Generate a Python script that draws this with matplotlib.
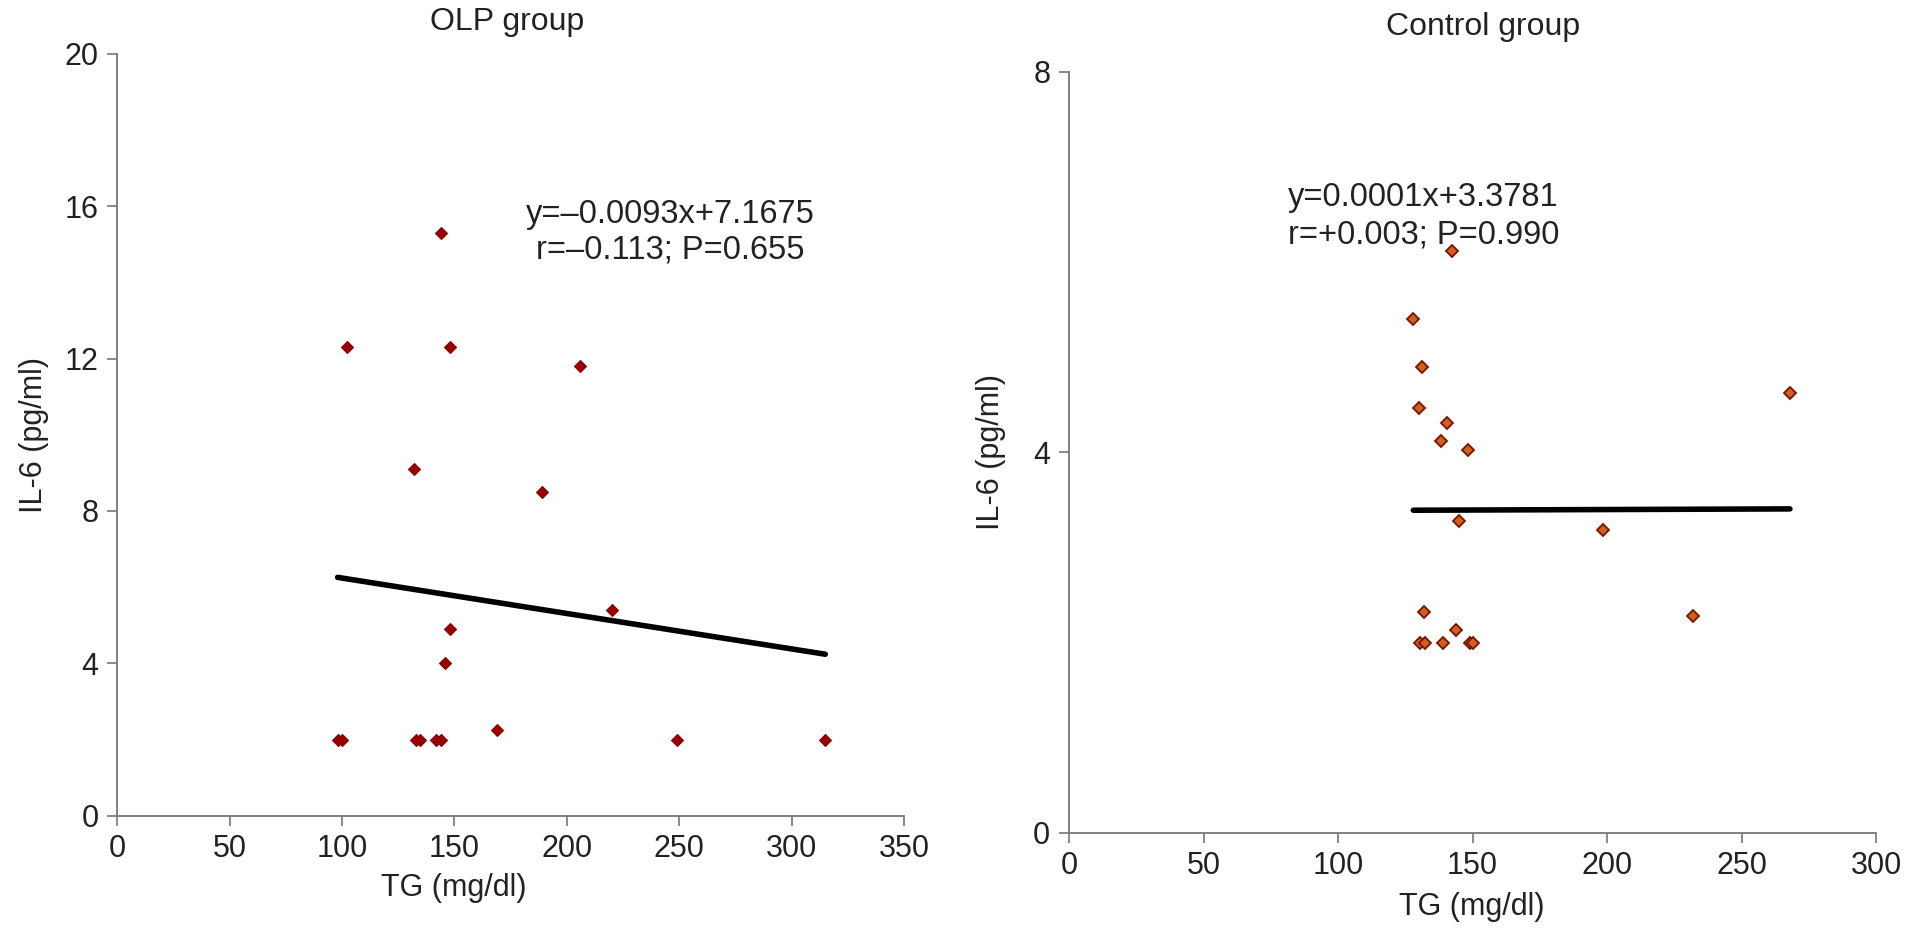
import matplotlib
matplotlib.use("Agg")
import matplotlib.pyplot as plt
import numpy as np

plt.rcParams['font.family'] = ['Liberation Sans', 'DejaVu Sans']

# ---- data ----
olp_tg = [98, 100, 102, 132, 133, 134.5, 142, 144, 144, 146, 148, 148, 169, 189, 206, 220, 249, 315]
olp_il6 = [2.0, 2.0, 12.3, 9.1, 2.0, 2.0, 2.0, 2.0, 15.3, 4.0, 12.3, 4.9, 2.25, 8.5, 11.8, 5.4, 2.0, 2.0]
olp_slope, olp_intercept = -0.0093, 7.1675
olp_eq = "y=\u20130.0093x+7.1675"
olp_stat = "r=\u20130.113; P=0.655"

ctl_tg = [128.0, 131.1, 130.1, 140.4, 138.3, 148.3, 145.1, 142.3, 130.5, 132.3, 138.9, 143.9,
          149.0, 150.3, 132.1, 198.4, 232.1, 268.0]
ctl_il6 = [5.40, 4.90, 4.47, 4.31, 4.12, 4.02, 3.28, 6.12, 2.0, 2.0, 2.0, 2.13,
           2.0, 2.0, 2.32, 3.18, 2.28, 4.62]
ctl_slope, ctl_intercept = 0.0001, 3.3781
ctl_eq = "y=0.0001x+3.3781"
ctl_stat = "r=+0.003; P=0.990"

olp_xticks = [0, 50, 100, 150, 200, 250, 300, 350]
olp_yticks = [0, 4, 8, 12, 16, 20]
ctl_xticks = [0, 50, 100, 150, 200, 250, 300]
ctl_yticks = [0, 4, 8]

W, H = 1913, 950
fig = plt.figure(figsize=(W / 100, H / 100), dpi=100)

FS = 22
FS_ANN = 23.5
FS_TITLE = 23
TXT = '#222222'
SPINE = '#777777'


def px_axes(l, t, r, b):
    return fig.add_axes([l / W, 1 - b / H, (r - l) / W, (b - t) / H])


def style(ax, xticks, yticks):
    for s in ['top', 'right']:
        ax.spines[s].set_visible(False)
    for s in ['left', 'bottom']:
        ax.spines[s].set_color(SPINE)
        ax.spines[s].set_linewidth(1.3)
    ax.set_xticks(xticks)
    ax.set_yticks(yticks)
    ax.set_xlim(xticks[0], xticks[-1])
    ax.set_ylim(yticks[0], yticks[-1])
    ax.tick_params(axis='both', direction='out', length=7.5, width=1.2, color=SPINE,
                   labelsize=FS, labelcolor=TXT, pad=6)
    ax.spines['left'].set_clip_on(False)
    ax.spines['bottom'].set_clip_on(False)


# ---- OLP group ----
ax1 = px_axes(117.3, 53.7, 904, 815.7)
style(ax1, olp_xticks, olp_yticks)
ax1.plot(olp_tg, olp_il6, linestyle='none', marker='D', markersize=6.3,
         markerfacecolor='#990000', markeredgecolor='#880000', markeredgewidth=0.8,
         clip_on=False, zorder=3)
xl = np.array([min(olp_tg), max(olp_tg)])
ax1.plot(xl, olp_slope * xl + olp_intercept, color='black', linewidth=4.0,
         solid_capstyle='round', zorder=2)
ax1.text(246, 15.77, olp_eq, ha='center', va='center', fontsize=FS_ANN, color=TXT)
ax1.text(246, 14.85, olp_stat, ha='center', va='center', fontsize=FS_ANN, color=TXT)

# ---- Control group ----
ax2 = px_axes(1069, 71.9, 1876, 832.7)
style(ax2, ctl_xticks, ctl_yticks)
ax2.plot(ctl_tg, ctl_il6, linestyle='none', marker='D', markersize=5.7,
         markerfacecolor='#D0601E', markeredgecolor='#7A1200', markeredgewidth=1.3,
         clip_on=False, zorder=3)
xl2 = np.array([min(ctl_tg), max(ctl_tg)])
ax2.plot(xl2, ctl_slope * xl2 + ctl_intercept, color='black', linewidth=4.0,
         solid_capstyle='round', zorder=2)
ax2.text(81.4, 6.68, ctl_eq, ha='left', va='center', fontsize=FS_ANN, color=TXT)
ax2.text(81.4, 6.28, ctl_stat, ha='left', va='center', fontsize=FS_ANN, color=TXT)

# ---- titles and axis labels ----
fig.text(507 / W, 1 - 22 / H, "OLP group", ha='center', va='center', fontsize=FS_TITLE, color=TXT)
fig.text(1483 / W, 1 - 27 / H, "Control group", ha='center', va='center', fontsize=FS_TITLE, color=TXT)
fig.text(454 / W, 1 - 888 / H, "TG (mg/dl)", ha='center', va='center', fontsize=FS, color=TXT)
fig.text(1472 / W, 1 - 907 / H, "TG (mg/dl)", ha='center', va='center', fontsize=FS, color=TXT)
fig.text(34 / W, 1 - 435 / H, "IL-6 (pg/ml)", ha='center', va='center', rotation=90,
         fontsize=FS, color=TXT)
fig.text(991 / W, 1 - 452 / H, "IL-6 (pg/ml)", ha='center', va='center', rotation=90,
         fontsize=FS, color=TXT)

fig.savefig("out.png", dpi=100, facecolor='white')
